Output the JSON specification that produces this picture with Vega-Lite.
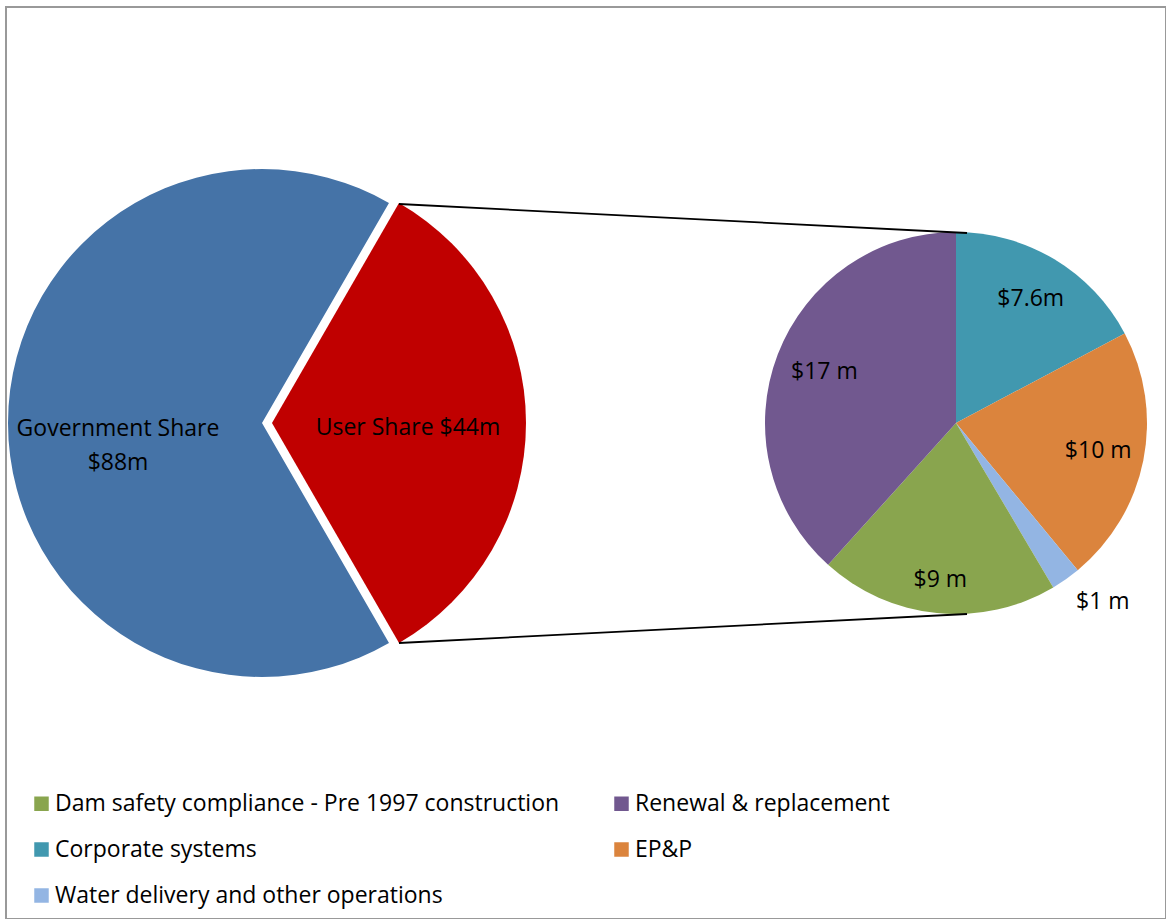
{
  "$schema": "https://vega.github.io/schema/vega-lite/v6.json",
  "width": 1160,
  "height": 912,
  "autosize": {"type": "none"},
  "padding": {"left": 6, "top": 7, "right": 0, "bottom": 0},
  "background": "white",
  "view": {"stroke": "#999999", "strokeWidth": 2},
  "config": {"font": "Open Sans", "text": {"font": "Open Sans"}},
  "datasets": {
    "big": [
      {"share": "Government Share", "value": 88, "label": "Government Share\n$88m"},
      {"share": "User Share", "value": 44, "label": "User Share $44m"}
    ],
    "small": [
      {"category": "Corporate systems", "value": 7.6, "label": "$7.6m"},
      {"category": "EP&P", "value": 9.6, "label": "$10 m"},
      {"category": "Water delivery and other operations", "value": 1.1, "label": "$1 m"},
      {"category": "Dam safety compliance - Pre 1997 construction", "value": 8.9, "label": "$9 m"},
      {"category": "Renewal & replacement", "value": 16.9, "label": "$17 m"}
    ]
  },
  "layer": [
    {
      "data": {"name": "big"},
      "mark": {"type": "arc", "outerRadius": 254},
      "encoding": {
        "x": {"datum": "Total", "type": "nominal", "scale": {"type": "point", "domain": ["Total", "User Share"], "range": [256, 950], "padding": 0}, "axis": null},
        "y": {"datum": "mid", "type": "nominal", "scale": {"type": "point", "domain": ["mid"], "range": [416, 416], "padding": 0}, "axis": null},
        "theta": {"field": "value", "type": "quantitative", "scale": {"range": [2.618, 8.901]}},
        "color": {"field": "share", "type": "nominal", "scale": {"domain": ["Government Share", "User Share"], "range": ["#4573A7", "#C00000"]}, "legend": null},
        "opacity": {"condition": {"test": "datum.share === 'Government Share'", "value": 1}, "value": 0}
      }
    },
    {
      "data": {"name": "big"},
      "mark": {"type": "arc", "outerRadius": 254, "xOffset": 10},
      "encoding": {
        "x": {"datum": "Total", "type": "nominal", "axis": null},
        "y": {"datum": "mid", "type": "nominal", "axis": null},
        "theta": {"field": "value", "type": "quantitative", "scale": {"range": [2.618, 8.901]}},
        "color": {"field": "share", "type": "nominal", "scale": {"domain": ["Government Share", "User Share"], "range": ["#4573A7", "#C00000"]}, "legend": null},
        "opacity": {"condition": {"test": "datum.share === 'User Share'", "value": 1}, "value": 0}
      }
    },
    {
      "data": {"name": "big"},
      "mark": {"type": "text", "radius": 144, "fontSize": 23, "lineBreak": "\n", "lineHeight": 34, "dy": 6, "color": "#000000", "align": "center", "baseline": "middle"},
      "encoding": {
        "x": {"datum": "Total", "type": "nominal", "axis": null},
        "y": {"datum": "mid", "type": "nominal", "axis": null},
        "theta": {"field": "value", "type": "quantitative", "stack": true, "scale": {"range": [2.618, 8.901]}},
        "detail": {"field": "share", "type": "nominal"},
        "text": {"condition": {"test": "datum.share === 'Government Share'", "field": "label"}, "value": ""}
      }
    },
    {
      "data": {"name": "big"},
      "mark": {"type": "text", "radius": 136, "fontSize": 23, "xOffset": 10, "dy": 5, "color": "#000000", "align": "center", "baseline": "middle"},
      "encoding": {
        "x": {"datum": "Total", "type": "nominal", "axis": null},
        "y": {"datum": "mid", "type": "nominal", "axis": null},
        "theta": {"field": "value", "type": "quantitative", "stack": true, "scale": {"range": [2.618, 8.901]}},
        "detail": {"field": "share", "type": "nominal"},
        "text": {"condition": {"test": "datum.share === 'User Share'", "field": "label"}, "value": ""}
      }
    },
    {
      "data": {"name": "small"},
      "transform": [{"window": [{"op": "row_number", "as": "idx"}]}],
      "mark": {"type": "arc", "outerRadius": 191},
      "encoding": {
        "x": {"datum": "User Share", "type": "nominal", "axis": null},
        "y": {"datum": "mid", "type": "nominal", "axis": null},
        "theta": {"field": "value", "type": "quantitative"},
        "order": {"field": "idx", "type": "quantitative"},
        "color": {
          "field": "category",
          "type": "nominal",
          "scale": {
            "domain": ["Dam safety compliance - Pre 1997 construction", "Corporate systems", "Water delivery and other operations", "Renewal & replacement", "EP&P"],
            "range": ["#89A54E", "#4198AF", "#93B5E3", "#71588F", "#DB843D"]
          },
          "legend": {
            "orient": "none",
            "legendX": 24,
            "legendY": 785,
            "columns": 2,
            "title": null,
            "symbolType": "square",
            "symbolSize": 210,
            "symbolStrokeWidth": 0,
            "labelFontSize": 23,
            "labelFont": "Open Sans",
            "labelColor": "#000000",
            "labelLimit": 700,
            "labelOffset": 2,
            "padding": 0,
            "rowPadding": 22,
            "columnPadding": 50
          }
        }
      }
    },
    {
      "data": {"name": "small"},
      "transform": [{"window": [{"op": "row_number", "as": "idx"}]}],
      "mark": {"type": "text", "radius": 145, "fontSize": 23, "color": "#000000", "align": "center", "baseline": "middle"},
      "encoding": {
        "x": {"datum": "User Share", "type": "nominal", "axis": null},
        "y": {"datum": "mid", "type": "nominal", "axis": null},
        "theta": {"field": "value", "type": "quantitative", "stack": true},
        "order": {"field": "idx", "type": "quantitative"},
        "detail": {"field": "category", "type": "nominal"},
        "text": {"condition": {"test": "datum.category === 'Corporate systems' || datum.category === 'EP&P'", "field": "label"}, "value": ""}
      }
    },
    {
      "data": {"name": "small"},
      "transform": [{"window": [{"op": "row_number", "as": "idx"}]}],
      "mark": {"type": "text", "radius": 158, "fontSize": 23, "color": "#000000", "align": "center", "baseline": "middle"},
      "encoding": {
        "x": {"datum": "User Share", "type": "nominal", "axis": null},
        "y": {"datum": "mid", "type": "nominal", "axis": null},
        "theta": {"field": "value", "type": "quantitative", "stack": true},
        "order": {"field": "idx", "type": "quantitative"},
        "detail": {"field": "category", "type": "nominal"},
        "text": {"condition": {"test": "datum.category === 'Dam safety compliance - Pre 1997 construction'", "field": "label"}, "value": ""}
      }
    },
    {
      "data": {"name": "small"},
      "transform": [{"window": [{"op": "row_number", "as": "idx"}]}],
      "mark": {"type": "text", "radius": 141, "fontSize": 23, "color": "#000000", "align": "center", "baseline": "middle"},
      "encoding": {
        "x": {"datum": "User Share", "type": "nominal", "axis": null},
        "y": {"datum": "mid", "type": "nominal", "axis": null},
        "theta": {"field": "value", "type": "quantitative", "stack": true},
        "order": {"field": "idx", "type": "quantitative"},
        "detail": {"field": "category", "type": "nominal"},
        "text": {"condition": {"test": "datum.category === 'Renewal & replacement'", "field": "label"}, "value": ""}
      }
    },
    {
      "data": {"name": "small"},
      "transform": [{"window": [{"op": "row_number", "as": "idx"}]}],
      "mark": {"type": "text", "radius": 231, "fontSize": 23, "dx": 14, "dy": -10, "color": "#000000", "align": "center", "baseline": "middle"},
      "encoding": {
        "x": {"datum": "User Share", "type": "nominal", "axis": null},
        "y": {"datum": "mid", "type": "nominal", "axis": null},
        "theta": {"field": "value", "type": "quantitative", "stack": true},
        "order": {"field": "idx", "type": "quantitative"},
        "detail": {"field": "category", "type": "nominal"},
        "text": {"condition": {"test": "datum.category === 'Water delivery and other operations'", "field": "label"}, "value": ""}
      }
    },
    {
      "data": {"name": "big"},
      "transform": [{"filter": "datum.share === 'User Share'"}],
      "mark": {"type": "rule", "color": "#000000", "strokeWidth": 1.8, "xOffset": 137, "x2Offset": 11, "yOffset": -219, "y2Offset": -190},
      "encoding": {
        "x": {"datum": "Total", "type": "nominal", "axis": null},
        "x2": {"datum": "User Share"},
        "y": {"datum": "mid", "type": "nominal", "axis": null},
        "y2": {"datum": "mid"}
      }
    },
    {
      "data": {"name": "big"},
      "transform": [{"filter": "datum.share === 'User Share'"}],
      "mark": {"type": "rule", "color": "#000000", "strokeWidth": 1.8, "xOffset": 137, "x2Offset": 11, "yOffset": 220, "y2Offset": 191},
      "encoding": {
        "x": {"datum": "Total", "type": "nominal", "axis": null},
        "x2": {"datum": "User Share"},
        "y": {"datum": "mid", "type": "nominal", "axis": null},
        "y2": {"datum": "mid"}
      }
    }
  ],
  "resolve": {"scale": {"color": "independent", "theta": "independent"}}
}
